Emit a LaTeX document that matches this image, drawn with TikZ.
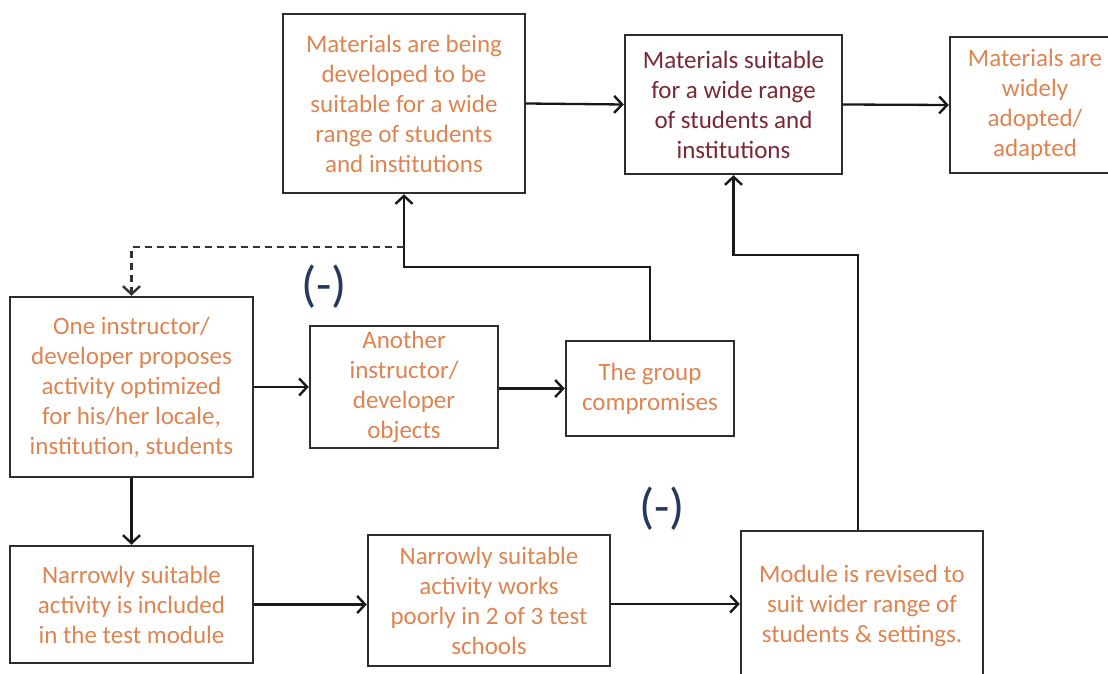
\documentclass[tikz,border=0pt]{standalone}
\usepackage{fontspec}
\setmainfont{Carlito}
\usetikzlibrary{arrows.meta}
\definecolor{txtorange}{RGB}{222,132,80}
\definecolor{txtmaroon}{RGB}{122,40,52}
\definecolor{signnavy}{RGB}{38,56,96}
\definecolor{boxline}{RGB}{45,45,45}
\tikzset{
  stagebox/.style={draw=boxline, line width=2.4pt, fill=white, align=center,
    inner sep=0pt, text=txtorange,
    font=\fontsize{25}{30}\selectfont},
  keybox/.style={stagebox, text=txtmaroon},
  tip/.style={-{Straight Barb[length=8pt,width=17pt,line width=2.4pt]}},
  arr/.style={draw=black!90, line width=2.3pt, tip},
  sign/.style={text=signnavy, font=\fontsize{50}{52}\selectfont}
}
\begin{document}
\begin{tikzpicture}[x=1pt,y=-1pt]
\useasboundingbox[fill=white] (0,0) rectangle (1108,674);

% top row
\node[stagebox, minimum width=242pt, minimum height=179pt] (A) at (404,103.5)
  {Materials are being\\developed to be\\suitable for a wide\\range of students\\and institutions};
\node[keybox, minimum width=217pt, minimum height=139pt] (B) at (733.5,104.5)
  {Materials suitable\\for a wide range\\of students and\\institutions};
\node[stagebox, minimum width=170pt, minimum height=136pt] (C) at (1035,105)
  {Materials are\\widely\\adopted/\\adapted};

% middle row
\node[stagebox, minimum width=243pt, minimum height=180pt] (D) at (131.5,387)
  {One instructor/\\developer proposes\\activity optimized\\for his/her locale,\\institution, students};
\node[stagebox, minimum width=188pt, minimum height=122pt] (E) at (404,387)
  {Another\\instructor/\\developer\\objects};
\node[stagebox, minimum width=168pt, minimum height=95pt] (F) at (650,388.5)
  {The group\\compromises};

% bottom row
\node[stagebox, minimum width=243pt, minimum height=117pt] (G) at (131.5,604.5)
  {Narrowly suitable\\activity is included\\in the test module};
\node[stagebox, minimum width=242pt, minimum height=131pt] (H) at (489,600.5)
  {Narrowly suitable\\activity works\\poorly in 2 of 3 test\\schools};
\node[stagebox, minimum width=242pt, minimum height=150pt] (I) at (862,606)
  {Module is revised to\\suit wider range of\\students \& settings.};

% feedback signs
\node[sign] (s1) at (324,287) {(-)};
\node[sign] (s2) at (662,509) {(-)};

% forward connectors
\draw[arr] (A.east) -- (B.west);
\draw[arr] (B.east) -- (C.west);
\draw[arr] (D.east) -- (E.west);
\draw[arr] (E.east |- F.west) -- (F.west);
\draw[arr] (D.south) -- (G.north);
\draw[arr] (G.east) -- (H.west |- G.east);
\draw[arr] (H.east |- 0,604) -- (I.west |- 0,604);

% compromise loop back to the top
\coordinate (split) at (A.south |- 0,247);
\draw[arr] (F.north) -- (F.north |- 0,267) -| (A.south);
\draw[draw=black!80, line width=2.3pt, dash pattern=on 7pt off 5pt, tip]
  (split) -| (D.north);

% revision loop back to the top
\draw[arr] (I.north -| 858,0) -- (858,255) -| (B.south);
\end{tikzpicture}
\end{document}
